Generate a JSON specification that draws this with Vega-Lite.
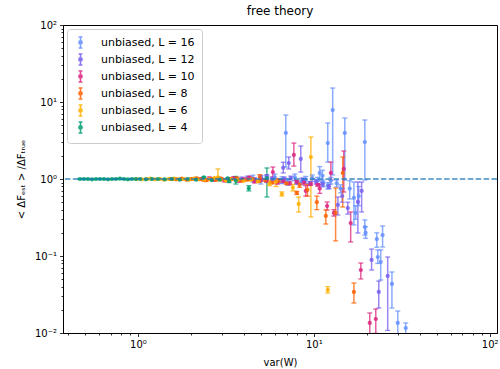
{
  "$schema": "https://vega.github.io/schema/vega-lite/v6.json",
  "width": 434,
  "height": 308,
  "autosize": {"type": "none"},
  "padding": {"left": 63, "top": 25, "right": 3, "bottom": 36},
  "background": "white",
  "title": {"text": "free theory", "fontSize": 12, "font": "DejaVu Sans", "fontWeight": "normal", "color": "#000", "offset": 2},
  "config": {
    "view": {"stroke": "#000", "strokeWidth": 1},
    "axis": {"domainColor": "#000", "tickColor": "#000", "labelColor": "#000", "titleColor": "#000", "labelFont": "DejaVu Sans", "titleFont": "DejaVu Sans", "labelFontSize": 10, "titleFontSize": 10, "titleFontWeight": "normal", "grid": false, "domainWidth": 1, "tickWidth": 0.8},
    "legend": {"orient": "top-left", "title": null, "offset": 4, "padding": 7, "strokeColor": "#cccccc", "fillColor": "rgba(255,255,255,0.8)", "cornerRadius": 3,
            "labelFont": "DejaVu Sans", "labelFontSize": 11, "labelColor": "#000",
            "symbolType": "M-0.35,-1H0.35M0,-1V1M-0.35,1H0.35M0.3,0A0.3,0.3 0 1,1 -0.3,0A0.3,0.3 0 1,1 0.3,0Z",
            "symbolSize": 120, "symbolStrokeWidth": 1.5, "symbolOpacity": 0.85, "rowPadding": 0, "labelOffset": 14}
  },
  "data": {"values": [
    {"L":16,"x":4.5,"y":1.02,"lo":0.92,"hi":1.12},
    {"L":16,"x":5.0,"y":0.95,"lo":0.86,"hi":1.05},
    {"L":16,"x":5.4,"y":1.0,"lo":0.9,"hi":1.1},
    {"L":16,"x":6.0,"y":1.05,"lo":0.95,"hi":1.16},
    {"L":16,"x":6.6,"y":0.97,"lo":0.87,"hi":1.07},
    {"L":16,"x":7.1,"y":0.92,"lo":0.83,"hi":1.01},
    {"L":16,"x":7.8,"y":1.05,"lo":0.95,"hi":1.16},
    {"L":16,"x":8.5,"y":0.93,"lo":0.84,"hi":1.02},
    {"L":16,"x":9.0,"y":0.98,"lo":0.88,"hi":1.08},
    {"L":16,"x":9.8,"y":1.03,"lo":0.93,"hi":1.13},
    {"L":16,"x":10.5,"y":0.95,"lo":0.86,"hi":1.05},
    {"L":16,"x":10.8,"y":1.2,"lo":0.95,"hi":1.45},
    {"L":16,"x":11.2,"y":1.1,"lo":0.9,"hi":1.3},
    {"L":16,"x":11.3,"y":0.88,"lo":0.79,"hi":0.97},
    {"L":16,"x":12.0,"y":0.82,"lo":0.74,"hi":0.9},
    {"L":16,"x":12.5,"y":0.95,"lo":0.86,"hi":1.05},
    {"L":16,"x":13.5,"y":0.88,"lo":0.79,"hi":0.97},
    {"L":16,"x":14.2,"y":0.75,"lo":0.66,"hi":0.84},
    {"L":16,"x":6.93,"y":3.96,"lo":1.43,"hi":6.78},
    {"L":16,"x":12.0,"y":2.93,"lo":1.66,"hi":5.34},
    {"L":16,"x":12.8,"y":7.87,"lo":1.13,"hi":15.2},
    {"L":16,"x":15.0,"y":3.96,"lo":0.97,"hi":6.2},
    {"L":16,"x":19.5,"y":3.02,"lo":0.97,"hi":5.84},
    {"L":16,"x":16.0,"y":0.75,"lo":0.55,"hi":0.95},
    {"L":16,"x":16.9,"y":0.567,"lo":0.253,"hi":0.914},
    {"L":16,"x":17.3,"y":0.362,"lo":0.3,"hi":0.45},
    {"L":16,"x":18.0,"y":0.6,"lo":0.45,"hi":0.8},
    {"L":16,"x":19.5,"y":0.238,"lo":0.187,"hi":0.294},
    {"L":16,"x":19.7,"y":0.2,"lo":0.17,"hi":0.24},
    {"L":16,"x":22.8,"y":0.166,"lo":0.13,"hi":0.2},
    {"L":16,"x":24.6,"y":0.187,"lo":0.131,"hi":0.245},
    {"L":16,"x":23.1,"y":0.097,"lo":0.08,"hi":0.12},
    {"L":16,"x":24.0,"y":0.0836,"lo":0.0488,"hi":0.12},
    {"L":16,"x":27.8,"y":0.0433,"lo":0.0211,"hi":0.062},
    {"L":16,"x":30.0,"y":0.0135,"lo":0.0095,"hi":0.0193},
    {"L":16,"x":33.3,"y":0.0116,"lo":0.009,"hi":0.0135},
    {"L":12,"x":3.9,"y":1.0,"lo":0.94,"hi":1.06},
    {"L":12,"x":4.2,"y":1.03,"lo":0.97,"hi":1.09},
    {"L":12,"x":4.6,"y":0.98,"lo":0.92,"hi":1.04},
    {"L":12,"x":5.0,"y":1.05,"lo":0.99,"hi":1.11},
    {"L":12,"x":5.4,"y":1.08,"lo":1.02,"hi":1.14},
    {"L":12,"x":5.8,"y":1.0,"lo":0.94,"hi":1.06},
    {"L":12,"x":6.3,"y":0.95,"lo":0.89,"hi":1.01},
    {"L":12,"x":6.8,"y":1.0,"lo":0.94,"hi":1.06},
    {"L":12,"x":7.4,"y":1.03,"lo":0.97,"hi":1.09},
    {"L":12,"x":8.0,"y":0.9,"lo":0.85,"hi":0.95},
    {"L":12,"x":8.7,"y":0.97,"lo":0.91,"hi":1.03},
    {"L":12,"x":9.5,"y":0.88,"lo":0.83,"hi":0.93},
    {"L":12,"x":10.3,"y":0.92,"lo":0.86,"hi":0.98},
    {"L":12,"x":11.2,"y":0.86,"lo":0.81,"hi":0.91},
    {"L":12,"x":12.2,"y":0.8,"lo":0.75,"hi":0.85},
    {"L":12,"x":6.7,"y":1.4,"lo":1.2,"hi":1.65},
    {"L":12,"x":7.2,"y":1.61,"lo":1.35,"hi":1.93},
    {"L":12,"x":8.43,"y":1.82,"lo":1.23,"hi":2.68},
    {"L":12,"x":13.7,"y":0.46,"lo":0.341,"hi":0.584},
    {"L":12,"x":14.5,"y":0.6,"lo":0.5,"hi":0.75},
    {"L":12,"x":15.6,"y":0.42,"lo":0.35,"hi":0.5},
    {"L":12,"x":17.8,"y":0.503,"lo":0.199,"hi":0.914},
    {"L":12,"x":18.7,"y":0.7,"lo":0.373,"hi":0.914},
    {"L":12,"x":21.3,"y":0.089,"lo":0.0658,"hi":0.123},
    {"L":12,"x":23.4,"y":0.0341,"lo":0.0211,"hi":0.0473},
    {"L":12,"x":26.3,"y":0.055,"lo":0.0108,"hi":0.097},
    {"L":10,"x":2.25,"y":1.0,"lo":0.96,"hi":1.04},
    {"L":10,"x":2.4,"y":0.97,"lo":0.93,"hi":1.01},
    {"L":10,"x":2.55,"y":1.02,"lo":0.98,"hi":1.06},
    {"L":10,"x":2.7,"y":0.98,"lo":0.94,"hi":1.02},
    {"L":10,"x":2.9,"y":1.01,"lo":0.97,"hi":1.05},
    {"L":10,"x":3.1,"y":0.96,"lo":0.92,"hi":1.0},
    {"L":10,"x":3.3,"y":1.0,"lo":0.96,"hi":1.04},
    {"L":10,"x":3.5,"y":1.03,"lo":0.99,"hi":1.07},
    {"L":10,"x":3.75,"y":0.95,"lo":0.91,"hi":0.99},
    {"L":10,"x":4.0,"y":0.99,"lo":0.95,"hi":1.03},
    {"L":10,"x":4.3,"y":1.04,"lo":1.0,"hi":1.08},
    {"L":10,"x":4.6,"y":0.93,"lo":0.89,"hi":0.97},
    {"L":10,"x":5.0,"y":0.97,"lo":0.93,"hi":1.01},
    {"L":10,"x":5.4,"y":0.95,"lo":0.91,"hi":0.99},
    {"L":10,"x":6.2,"y":0.9,"lo":0.86,"hi":0.94},
    {"L":10,"x":6.7,"y":0.94,"lo":0.9,"hi":0.98},
    {"L":10,"x":7.3,"y":0.88,"lo":0.84,"hi":0.92},
    {"L":10,"x":8.0,"y":0.92,"lo":0.88,"hi":0.96},
    {"L":10,"x":8.8,"y":0.9,"lo":0.86,"hi":0.94},
    {"L":10,"x":9.0,"y":0.7,"lo":0.6,"hi":0.82},
    {"L":10,"x":9.6,"y":0.86,"lo":0.83,"hi":0.89},
    {"L":10,"x":10.5,"y":0.84,"lo":0.81,"hi":0.87},
    {"L":10,"x":10.8,"y":0.75,"lo":0.65,"hi":0.85},
    {"L":10,"x":5.85,"y":1.23,"lo":1.06,"hi":1.43},
    {"L":10,"x":7.7,"y":2.05,"lo":1.47,"hi":2.93},
    {"L":10,"x":12.5,"y":1.2,"lo":0.97,"hi":1.66},
    {"L":10,"x":11.9,"y":0.446,"lo":0.396,"hi":0.503},
    {"L":10,"x":13.0,"y":0.362,"lo":0.33,"hi":0.4},
    {"L":10,"x":14.8,"y":1.35,"lo":0.678,"hi":2.31},
    {"L":10,"x":16.2,"y":0.268,"lo":0.152,"hi":0.373},
    {"L":10,"x":18.5,"y":0.0658,"lo":0.0503,"hi":0.081},
    {"L":10,"x":20.8,"y":0.0135,"lo":0.0097,"hi":0.0182},
    {"L":10,"x":22.5,"y":0.0152,"lo":0.0099,"hi":0.0205},
    {"L":8,"x":1.55,"y":1.0,"lo":0.97,"hi":1.03},
    {"L":8,"x":1.65,"y":0.99,"lo":0.96,"hi":1.02},
    {"L":8,"x":1.78,"y":1.01,"lo":0.98,"hi":1.04},
    {"L":8,"x":1.9,"y":0.98,"lo":0.95,"hi":1.01},
    {"L":8,"x":2.02,"y":1.0,"lo":0.97,"hi":1.03},
    {"L":8,"x":2.15,"y":1.02,"lo":0.99,"hi":1.05},
    {"L":8,"x":2.3,"y":0.99,"lo":0.96,"hi":1.02},
    {"L":8,"x":2.45,"y":0.97,"lo":0.94,"hi":1.0},
    {"L":8,"x":2.6,"y":1.0,"lo":0.97,"hi":1.03},
    {"L":8,"x":2.78,"y":0.98,"lo":0.95,"hi":1.01},
    {"L":8,"x":2.97,"y":1.01,"lo":0.98,"hi":1.04},
    {"L":8,"x":3.18,"y":0.96,"lo":0.93,"hi":0.99},
    {"L":8,"x":3.4,"y":0.99,"lo":0.96,"hi":1.02},
    {"L":8,"x":3.65,"y":1.02,"lo":0.99,"hi":1.05},
    {"L":8,"x":3.9,"y":0.95,"lo":0.92,"hi":0.98},
    {"L":8,"x":4.2,"y":0.98,"lo":0.95,"hi":1.01},
    {"L":8,"x":4.5,"y":1.0,"lo":0.97,"hi":1.03},
    {"L":8,"x":4.9,"y":0.94,"lo":0.91,"hi":0.97},
    {"L":8,"x":5.3,"y":0.97,"lo":0.94,"hi":1.0},
    {"L":8,"x":5.8,"y":0.9,"lo":0.87,"hi":0.93},
    {"L":8,"x":6.3,"y":0.95,"lo":0.92,"hi":0.98},
    {"L":8,"x":7.0,"y":0.88,"lo":0.85,"hi":0.91},
    {"L":8,"x":4.93,"y":1.06,"lo":0.98,"hi":1.14},
    {"L":8,"x":8.0,"y":0.66,"lo":0.63,"hi":0.69},
    {"L":8,"x":8.3,"y":0.84,"lo":0.78,"hi":0.9},
    {"L":8,"x":9.2,"y":0.72,"lo":0.6,"hi":0.85},
    {"L":8,"x":10.4,"y":0.5,"lo":0.4,"hi":0.6},
    {"L":8,"x":11.7,"y":0.331,"lo":0.26,"hi":0.396},
    {"L":8,"x":13.3,"y":0.362,"lo":0.157,"hi":0.764},
    {"L":8,"x":14.6,"y":1.2,"lo":0.433,"hi":1.93},
    {"L":8,"x":16.9,"y":0.0341,"lo":0.0245,"hi":0.0446},
    {"L":6,"x":0.98,"y":1.0,"lo":0.98,"hi":1.02},
    {"L":6,"x":1.05,"y":0.99,"lo":0.97,"hi":1.01},
    {"L":6,"x":1.12,"y":1.0,"lo":0.98,"hi":1.02},
    {"L":6,"x":1.18,"y":1.01,"lo":0.99,"hi":1.03},
    {"L":6,"x":1.25,"y":0.99,"lo":0.97,"hi":1.01},
    {"L":6,"x":1.33,"y":1.0,"lo":0.98,"hi":1.02},
    {"L":6,"x":1.41,"y":0.98,"lo":0.96,"hi":1.0},
    {"L":6,"x":1.5,"y":1.0,"lo":0.98,"hi":1.02},
    {"L":6,"x":1.6,"y":1.01,"lo":0.99,"hi":1.03},
    {"L":6,"x":1.7,"y":0.99,"lo":0.97,"hi":1.01},
    {"L":6,"x":1.82,"y":1.0,"lo":0.98,"hi":1.02},
    {"L":6,"x":1.95,"y":0.98,"lo":0.96,"hi":1.0},
    {"L":6,"x":2.08,"y":1.01,"lo":0.99,"hi":1.03},
    {"L":6,"x":2.22,"y":0.99,"lo":0.97,"hi":1.01},
    {"L":6,"x":2.38,"y":0.97,"lo":0.95,"hi":0.99},
    {"L":6,"x":2.55,"y":1.0,"lo":0.98,"hi":1.02},
    {"L":6,"x":2.73,"y":1.03,"lo":1.01,"hi":1.05},
    {"L":6,"x":2.85,"y":1.05,"lo":0.95,"hi":1.35},
    {"L":6,"x":2.95,"y":0.98,"lo":0.96,"hi":1.0},
    {"L":6,"x":3.15,"y":0.96,"lo":0.94,"hi":0.98},
    {"L":6,"x":3.4,"y":1.0,"lo":0.98,"hi":1.02},
    {"L":6,"x":3.7,"y":0.97,"lo":0.95,"hi":0.99},
    {"L":6,"x":4.0,"y":0.95,"lo":0.93,"hi":0.97},
    {"L":6,"x":4.4,"y":0.98,"lo":0.96,"hi":1.0},
    {"L":6,"x":4.8,"y":0.93,"lo":0.91,"hi":0.95},
    {"L":6,"x":5.6,"y":0.88,"lo":0.82,"hi":0.95},
    {"L":6,"x":6.1,"y":0.92,"lo":0.8,"hi":1.02},
    {"L":6,"x":6.58,"y":0.638,"lo":0.6,"hi":0.68},
    {"L":6,"x":7.6,"y":0.77,"lo":0.7,"hi":0.85},
    {"L":6,"x":8.2,"y":0.474,"lo":0.373,"hi":0.584},
    {"L":6,"x":9.62,"y":1.93,"lo":0.321,"hi":3.51},
    {"L":6,"x":12.0,"y":0.0362,"lo":0.033,"hi":0.04},
    {"L":4,"x":0.468,"y":1.0,"lo":0.985,"hi":1.015},
    {"L":4,"x":0.493,"y":1.0,"lo":0.985,"hi":1.015},
    {"L":4,"x":0.52,"y":1.0,"lo":0.985,"hi":1.015},
    {"L":4,"x":0.548,"y":0.99,"lo":0.975,"hi":1.005},
    {"L":4,"x":0.577,"y":1.0,"lo":0.985,"hi":1.015},
    {"L":4,"x":0.608,"y":1.0,"lo":0.985,"hi":1.015},
    {"L":4,"x":0.641,"y":1.0,"lo":0.985,"hi":1.015},
    {"L":4,"x":0.676,"y":0.99,"lo":0.975,"hi":1.005},
    {"L":4,"x":0.712,"y":1.0,"lo":0.985,"hi":1.015},
    {"L":4,"x":0.75,"y":1.0,"lo":0.985,"hi":1.015},
    {"L":4,"x":0.79,"y":1.01,"lo":0.995,"hi":1.025},
    {"L":4,"x":0.833,"y":1.0,"lo":0.985,"hi":1.015},
    {"L":4,"x":0.877,"y":0.99,"lo":0.975,"hi":1.005},
    {"L":4,"x":0.924,"y":1.0,"lo":0.985,"hi":1.015},
    {"L":4,"x":0.974,"y":1.0,"lo":0.985,"hi":1.015},
    {"L":4,"x":1.03,"y":1.0,"lo":0.985,"hi":1.015},
    {"L":4,"x":1.11,"y":0.99,"lo":0.975,"hi":1.005},
    {"L":4,"x":1.2,"y":1.0,"lo":0.985,"hi":1.015},
    {"L":4,"x":1.3,"y":1.0,"lo":0.985,"hi":1.015},
    {"L":4,"x":1.42,"y":0.99,"lo":0.975,"hi":1.005},
    {"L":4,"x":1.56,"y":1.0,"lo":0.985,"hi":1.015},
    {"L":4,"x":1.73,"y":0.98,"lo":0.965,"hi":0.995},
    {"L":4,"x":1.92,"y":1.0,"lo":0.985,"hi":1.015},
    {"L":4,"x":2.14,"y":0.98,"lo":0.965,"hi":0.995},
    {"L":4,"x":2.37,"y":1.05,"lo":1.03,"hi":1.07},
    {"L":4,"x":2.63,"y":0.97,"lo":0.955,"hi":0.985},
    {"L":4,"x":2.92,"y":0.98,"lo":0.965,"hi":0.995},
    {"L":4,"x":3.24,"y":1.02,"lo":1.0,"hi":1.04},
    {"L":4,"x":3.3,"y":0.94,"lo":0.9,"hi":0.98},
    {"L":4,"x":3.6,"y":0.95,"lo":0.86,"hi":1.08},
    {"L":4,"x":4.27,"y":0.76,"lo":0.7,"hi":0.82},
    {"L":4,"x":5.41,"y":1.03,"lo":0.584,"hi":1.39}
  ]},
  "layer": [
    {
      "mark": {"type": "rule", "clip": true, "strokeWidth": 1.5, "opacity": 0.75},
      "encoding": {
        "x": {"field": "x", "type": "quantitative", "scale": {"type": "log", "domain": [0.375, 110], "nice": false},
          "axis": {"title": "var(W)", "values": [0.4,0.5,0.6,0.7,0.8,0.9,1,2,3,4,5,6,7,8,9,10,20,30,40,50,60,70,80,90,100],
            "labelExpr": "datum.value == 1 ? '10⁰' : datum.value == 10 ? '10¹' : datum.value == 100 ? '10²' : ''",
            "tickSize": {"condition": {"test": "datum.value == 1 || datum.value == 10 || datum.value == 100", "value": 3.5}, "value": 2},
            "labelPadding": 3, "titlePadding": 8, "labelFlush": false, "labelOverlap": false}},
        "y": {"field": "lo", "type": "quantitative", "scale": {"type": "log", "domain": [0.01, 100], "nice": false},
          "axis": {"title": "< ΔFₑₛₜ > /ΔFₜᵣᵤₑ", "values": [0.01,0.02,0.03,0.04,0.05,0.06,0.07,0.08,0.09,0.1,0.2,0.3,0.4,0.5,0.6,0.7,0.8,0.9,1,2,3,4,5,6,7,8,9,10,20,30,40,50,60,70,80,90,100],
            "labelExpr": "datum.value == 0.01 ? '10⁻²' : datum.value == 0.1 ? '10⁻¹' : datum.value == 1 ? '10⁰' : datum.value == 10 ? '10¹' : datum.value == 100 ? '10²' : ''",
            "tickSize": {"condition": {"test": "datum.value == 0.01 || datum.value == 0.1 || datum.value == 1 || datum.value == 10 || datum.value == 100", "value": 3.5}, "value": 2},
            "labelPadding": 3, "titlePadding": 8, "labelFlush": false, "labelOverlap": false}},
        "y2": {"field": "hi"},
        "color": {"field": "L", "type": "nominal", "scale": {"domain": [16, 12, 10, 8, 6, 4], "range": ["#648FFF", "#785EF0", "#DC267F", "#FE6100", "#FFB000", "#009E73"]},
          "legend": {"labelExpr": "'unbiased, L = ' + datum.label",
            "encode": {"symbols": {"update": {"stroke": {"scale": "color", "field": "value"}, "fill": {"scale": "color", "field": "value"}}}}}}
      }
    },
    {
      "mark": {"type": "point", "clip": true, "shape": "M-1,0H1", "filled": false, "size": 25, "strokeWidth": 1.3, "opacity": 0.75},
      "encoding": {
        "x": {"field": "x", "type": "quantitative"},
        "y": {"field": "lo", "type": "quantitative"},
        "color": {"field": "L", "type": "nominal"}
      }
    },
    {
      "mark": {"type": "point", "clip": true, "shape": "M-1,0H1", "filled": false, "size": 25, "strokeWidth": 1.3, "opacity": 0.75},
      "encoding": {
        "x": {"field": "x", "type": "quantitative"},
        "y": {"field": "hi", "type": "quantitative"},
        "color": {"field": "L", "type": "nominal"}
      }
    },
    {
      "mark": {"type": "point", "clip": true, "shape": "circle", "filled": true, "size": 18, "opacity": 0.85},
      "encoding": {
        "x": {"field": "x", "type": "quantitative"},
        "y": {"field": "y", "type": "quantitative"},
        "color": {"field": "L", "type": "nominal"}
      }
    },
    {
      "data": {"values": [{}]},
      "mark": {"type": "rule", "strokeDash": [5.5, 2.4], "strokeWidth": 1.5, "color": "#1f77b4", "opacity": 0.85},
      "encoding": {"y": {"datum": 1, "type": "quantitative"}}
    }
  ]
}
